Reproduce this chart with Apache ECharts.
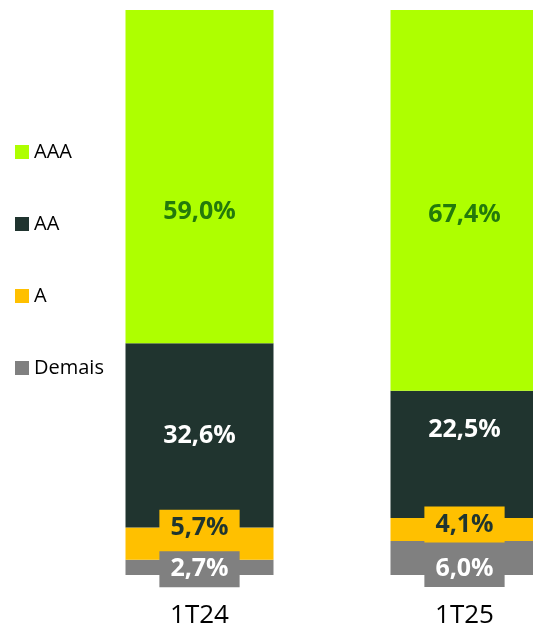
<!DOCTYPE html>
<html>
<head>
<meta charset="utf-8">
<script src="https://cdn.jsdelivr.net/npm/echarts@6/dist/echarts.min.js"></script>
<style>
html,body{margin:0;padding:0;background:#fff;}
#chart{width:533px;height:631px;}
</style>
</head>
<body>
<div id="chart"></div>
<script>
//类别及各评级占比（%）
const categories = ['1T24', '1T25'];
const aaa = [59.0, 67.4];
const aa = [32.6, 22.5];
const a = [5.7, 4.1];
const demais = [2.7, 6.0];

//标签位置微调（与数据分开）
const labelShift = {
	AAA: [[0, 35], [0, 14]],
	AA: [[0, 0], [0, -24]],
	A: [[0, -16], [0, -5]],
	Demais: [[0, 2], [0, 11]]
};

const fmt = v => v.toFixed(1).replace('.', ',') + '%';

function items(name, arr) {
	return arr.map((v, i) => ({value: v, label: {offset: labelShift[name][i]}}));
}

const baseLabel = {
	show: true,
	position: 'inside',
	fontFamily: 'Open Sans',
	fontWeight: 'bold',
	fontSize: 25,
	formatter: p => fmt(p.value)
};

const chart = echarts.init(document.getElementById('chart'));
chart.setOption({
	animation: false,
	legend: {
		orient: 'vertical',
		left: 15,
		top: 142,
		padding: 0,
		itemWidth: 14,
		itemHeight: 14,
		itemGap: 52,
		icon: 'rect',
		textStyle: {fontFamily: 'Open Sans', fontSize: 20, color: '#000', lineHeight: 20},
		data: ['AAA', 'AA', 'A', 'Demais']
	},
	grid: {left: 67, width: 530, top: 10, bottom: 56, outerBoundsMode: 'none', containLabel: false},
	xAxis: {
		type: 'category',
		data: categories,
		axisLine: {show: false},
		axisTick: {show: false},
		axisLabel: {fontFamily: 'Open Sans', fontSize: 26, color: '#000', margin: 28}
	},
	yAxis: {type: 'value', min: 0, max: 100, show: false},
	series: [
		{
			name: 'Demais', type: 'bar', stack: 't', barWidth: 148,
			itemStyle: {color: '#808080'},
			label: Object.assign({}, baseLabel, {color: '#fff', backgroundColor: '#808080', padding: [6, 11, 5, 11]}),
			data: items('Demais', demais)
		},
		{
			name: 'A', type: 'bar', stack: 't',
			itemStyle: {color: '#FFC000'},
			label: Object.assign({}, baseLabel, {color: '#1F3530', backgroundColor: '#FFC000', padding: [6, 11, 5, 11]}),
			data: items('A', a)
		},
		{
			name: 'AA', type: 'bar', stack: 't',
			itemStyle: {color: '#20342F'},
			label: Object.assign({}, baseLabel, {color: '#fff'}),
			data: items('AA', aa)
		},
		{
			name: 'AAA', type: 'bar', stack: 't',
			itemStyle: {color: '#AEFF00'},
			label: Object.assign({}, baseLabel, {color: '#237A0B'}),
			data: items('AAA', aaa)
		}
	]
});
</script>
</body>
</html>
